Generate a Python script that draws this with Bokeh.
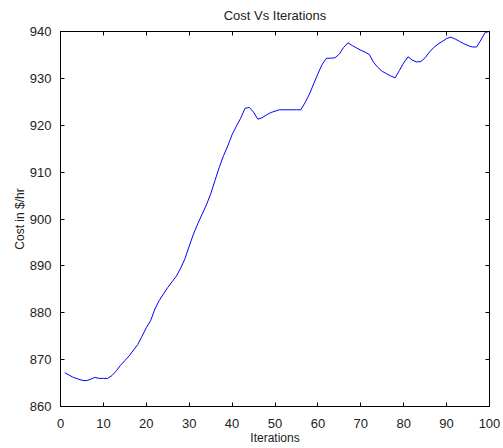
from bokeh.plotting import figure
from bokeh.models import LinearAxis, SingleIntervalTicker, Range1d, ColumnDataSource, CustomLabelingPolicy
from bokeh.embed import file_html
from bokeh.resources import INLINE

iterations = list(range(1, 101))
cost = [
    867.2, 866.7, 866.2, 865.9, 865.6, 865.5, 865.8, 866.2, 866.0, 866.0,
    866.0, 866.6, 867.6, 868.8, 869.8, 870.8, 872.0, 873.2, 875.0, 876.8,
    878.3, 880.8, 882.6, 884.0, 885.4, 886.6, 887.8, 889.5, 891.5, 894.2,
    896.8, 899.0, 901.0, 903.0, 905.3, 908.2, 911.0, 913.5, 915.6, 918.0,
    919.8, 921.5, 923.6, 923.8, 922.8, 921.3, 921.6, 922.2, 922.7, 923.0,
    923.3, 923.3, 923.3, 923.3, 923.3, 923.3, 924.8, 926.6, 928.8, 931.0,
    933.0, 934.3, 934.3, 934.4, 935.2, 936.6, 937.6, 937.0, 936.5, 936.0,
    935.6, 935.1, 933.4, 932.3, 931.5, 931.0, 930.5, 930.1, 931.7, 933.3,
    934.6, 933.9, 933.5, 933.6, 934.4, 935.6, 936.6, 937.3, 937.9, 938.5,
    938.8, 938.4, 937.9, 937.4, 937.0, 936.7, 936.7, 938.2, 939.8, 940.0,
]
title_text = "Cost Vs Iterations"
x_label = "Iterations"
y_label = "Cost in $/hr"

FONT = "Liberation Sans"

p = figure(width=503, height=448, output_backend="svg", toolbar_location=None,
           x_range=Range1d(0, 100), y_range=Range1d(860, 940),
           min_border_left=60, min_border_right=14, min_border_top=30,
           min_border_bottom=42, title=title_text)
p.title.align = "center"
p.title.text_font = FONT
p.title.text_font_size = "13px"
p.title.text_font_style = "normal"
p.title.text_color = "#222222"

p.xgrid.visible = False
p.ygrid.visible = False
p.outline_line_color = "black"
p.outline_line_width = 1
p.background_fill_color = "white"
p.border_fill_color = "white"

src = ColumnDataSource(dict(x=iterations, y=cost))
p.line("x", "y", source=src, line_color="#0000ff", line_width=1)

def style(ax, labels=True):
    ax.ticker = SingleIntervalTicker(interval=10)
    ax.minor_tick_line_color = None
    ax.major_tick_in = 4
    ax.major_tick_out = 0
    ax.axis_line_color = "black"
    ax.major_tick_line_color = "black"
    ax.major_label_text_font = FONT
    ax.major_label_text_color = "#222222"
    ax.major_label_text_font_size = "13px"
    if not labels:
        ax.major_label_text_font_size = "0px"
        ax.major_label_standoff = 0
        ax.major_label_policy = CustomLabelingPolicy(code="""
            for (const i of Array.from(indices)) { indices.unset(i) }
            return indices
        """)

style(p.xaxis[0])
style(p.yaxis[0])
p.xaxis[0].major_label_standoff = 8
p.yaxis[0].major_label_standoff = 5
p.xaxis[0].axis_label = x_label
p.yaxis[0].axis_label = y_label
for ax in (p.xaxis[0], p.yaxis[0]):
    ax.axis_label_text_font = FONT
    ax.axis_label_text_font_size = "12px"
    ax.axis_label_text_font_style = "normal"
    ax.axis_label_text_color = "#222222"
p.xaxis[0].axis_label_standoff = 0
p.yaxis[0].axis_label_standoff = 0

top = LinearAxis()
style(top, labels=False)
p.add_layout(top, "above")
right = LinearAxis()
style(right, labels=False)
p.add_layout(right, "right")

open("out.html", "w").write(file_html(p, INLINE))
